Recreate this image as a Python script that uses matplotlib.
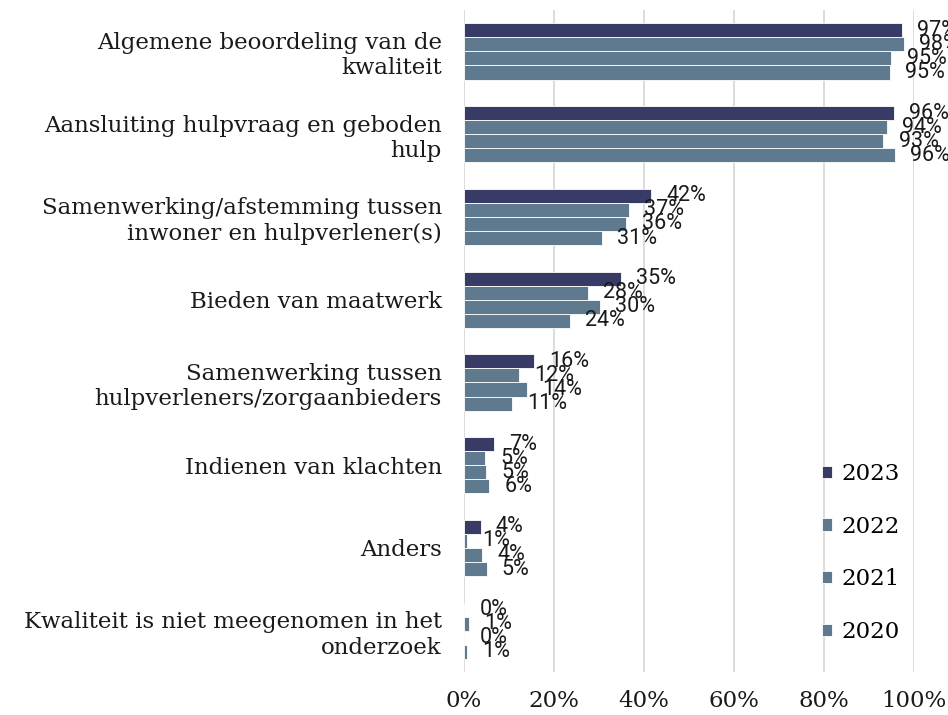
import numpy as np
import matplotlib.pyplot as plt

# Categories (top to bottom)
categories = [
    "Algemene beoordeling van de\nkwaliteit",
    "Aansluiting hulpvraag en geboden\nhulp",
    "Samenwerking/afstemming tussen\ninwoner en hulpverlener(s)",
    "Bieden van maatwerk",
    "Samenwerking tussen\nhulpverleners/zorgaanbieders",
    "Indienen van klachten",
    "Anders",
    "Kwaliteit is niet meegenomen in het\nonderzoek",
]

years = ["2023", "2022", "2021", "2020"]

# Percentages
v2023 = [97.3, 95.6, 41.6, 34.9, 15.6, 6.6, 3.7, 0.0]
v2022 = [97.7, 94.0, 36.7, 27.6, 12.2, 4.6, 0.6, 1.1]
v2021 = [95.0, 93.2, 36.1, 30.2, 13.9, 4.8, 4.1, 0.0]
v2020 = [94.7, 95.8, 30.7, 23.6, 10.6, 5.6, 5.0, 0.6]
series = [v2023, v2022, v2021, v2020]

colors = ["#383b66", "#5f7a8e", "#5f7a8e", "#5f7a8e"]

serif = "DejaVu Serif"
fig, ax = plt.subplots(figsize=(9.48, 7.15), dpi=100)
fig.subplots_adjust(left=0.4895, right=0.964, top=0.986, bottom=0.06)

y = np.arange(len(categories))
step = 0.17
for i, (vals, yr) in enumerate(zip(series, years)):
    pos = y + (i - 1.5) * step
    bars = ax.barh(pos, vals, height=step, color=colors[i],
                   edgecolor="white", linewidth=0.6, label=yr, zorder=3)
    # value labels right of each bar
    for b, v in zip(bars, vals):
        ax.annotate("%d%%" % int(np.floor(v + 0.5)),
                    xy=(b.get_width(), b.get_y() + b.get_height() / 2),
                    xytext=(11, 0), textcoords="offset points",
                    ha="left", va="center", fontsize=15.5,
                    family="Roboto", color="#1a1a1a", zorder=4,
                    annotation_clip=False)

ax.set_xlim(0, 100)
ax.set_ylim(len(categories) - 0.5, -0.5)
ax.set_xticks(np.arange(0, 101, 20))
ax.set_xticklabels(["%d%%" % t for t in range(0, 101, 20)],
                   family=serif, fontsize=16.5)
ax.set_yticks(y)
ax.set_yticklabels(categories, family=serif, fontsize=16.5)
ax.tick_params(axis="both", length=0, colors="#1a1a1a")
ax.tick_params(axis="y", pad=16)
ax.tick_params(axis="x", pad=13)

ax.grid(axis="x", color="#d9d9d9", linewidth=1.3, zorder=0)
for s in ax.spines.values():
    s.set_visible(False)

ax.legend(loc="upper left", bbox_to_anchor=(822 / 948, 1 - 463 / 715),
          bbox_transform=fig.transFigure, frameon=False, borderpad=0,
          borderaxespad=0, handlelength=0.45, handleheight=0.45,
          handletextpad=0.4, labelspacing=1.34,
          prop={"family": serif, "size": 16.5})

fig.savefig("out.png", dpi=100)
